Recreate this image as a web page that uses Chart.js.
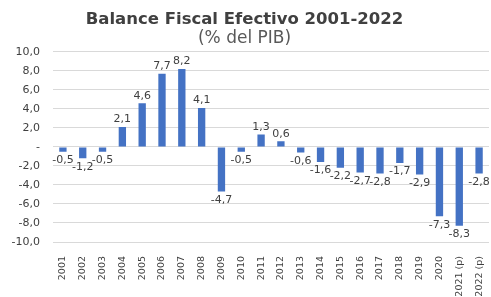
<!DOCTYPE html>
<html>
<head>
<meta charset="utf-8">
<script src="https://cdn.jsdelivr.net/npm/chart.js@4"></script>
<style>
  html, body { margin: 0; padding: 0; background: #fff; }
  #wrap { width: 491px; height: 297px; }
</style>
</head>
<body>
<div id="wrap"><canvas id="myChart" width="491" height="297"></canvas></div>
<script>
var years = ['2001','2002','2003','2004','2005','2006','2007','2008','2009','2010','2011',
             '2012','2013','2014','2015','2016','2017','2018','2019','2020','2021 (p)','2022 (p)'];
var balance = [-0.5, -1.2, -0.5, 2.1, 4.6, 7.7, 8.2, 4.1, -4.7, -0.5, 1.3,
               0.6, -0.6, -1.6, -2.2, -2.7, -2.8, -1.7, -2.9, -7.3, -8.3, -2.8];
var yTicks = [-10, -8, -6, -4, -2, 0, 2, 4, 6, 8, 10];

var FONT = "'DejaVu Sans', sans-serif";

function fmt(v) {
    return v.toFixed(1).replace('.', ',');
}

// simple value labels, above positive bars, below negative ones
var barLabels = {
    id: 'barLabels',
    afterDatasetsDraw: function(chart) {
        var c = chart.ctx;
        var meta = chart.getDatasetMeta(0);
        c.save();
        c.font = '11px ' + FONT;
        c.fillStyle = '#404040';
        c.textAlign = 'center';
        meta.data.forEach(function(bar, i) {
            var v = balance[i];
            if (v >= 0) {
                c.textBaseline = 'bottom';
                c.fillText(fmt(v), bar.x, bar.y - 2);
            } else {
                c.textBaseline = 'top';
                c.fillText(fmt(v), bar.x, bar.y + 3);
            }
        });
        c.restore();
    }
};

var ctx = document.getElementById('myChart').getContext('2d');
var chart = new Chart(ctx, {
    type: 'bar',
    data: {
        labels: years,
        datasets: [{
            label: 'Balance Fiscal Efectivo',
            backgroundColor: '#4472C4',
            data: balance,
            barPercentage: 0.37,
            categoryPercentage: 1.0
        }]
    },
    options: {
        responsive: false,
        animation: false,
        layout: { padding: { left: 0, right: 2, top: 0, bottom: 0 } },
        plugins: {
            legend: { display: false },
            tooltip: { enabled: false },
            title: {
                display: true,
                text: 'Balance Fiscal Efectivo 2001-2022',
                color: '#404040',
                font: { family: FONT, size: 16.5, weight: 'bold', lineHeight: 1.2 },
                padding: { top: 10, bottom: 0 }
            },
            subtitle: {
                display: true,
                text: '(% del PIB)',
                color: '#595959',
                font: { family: FONT, size: 17, lineHeight: 1.0 },
                padding: { top: 0, bottom: 5 }
            }
        },
        scales: {
            x: {
                grid: { display: false },
                border: { display: false },
                afterFit: function(axis) {
                    axis.height = 55;
                    axis.paddingLeft = 0;
                    axis.paddingRight = 0;
                },
                ticks: {
                    color: '#404040',
                    padding: 6,
                    font: { family: FONT, size: 9.5 },
                    minRotation: 90,
                    maxRotation: 90,
                    autoSkip: false
                }
            },
            y: {
                min: -10,
                max: 10,
                afterBuildTicks: function(axis) {
                    axis.ticks = yTicks.map(function(v) { return { value: v }; });
                },
                afterFit: function(axis) { axis.width = 53; },
                grid: { color: '#d9d9d9', drawTicks: false },
                border: { display: false },
                ticks: {
                    color: '#404040',
                    padding: 13,
                    font: { family: FONT, size: 11 },
                    callback: function(v) { return v === 0 ? '-' : fmt(v); }
                }
            }
        }
    },
    plugins: [barLabels]
});
</script>
</body>
</html>
